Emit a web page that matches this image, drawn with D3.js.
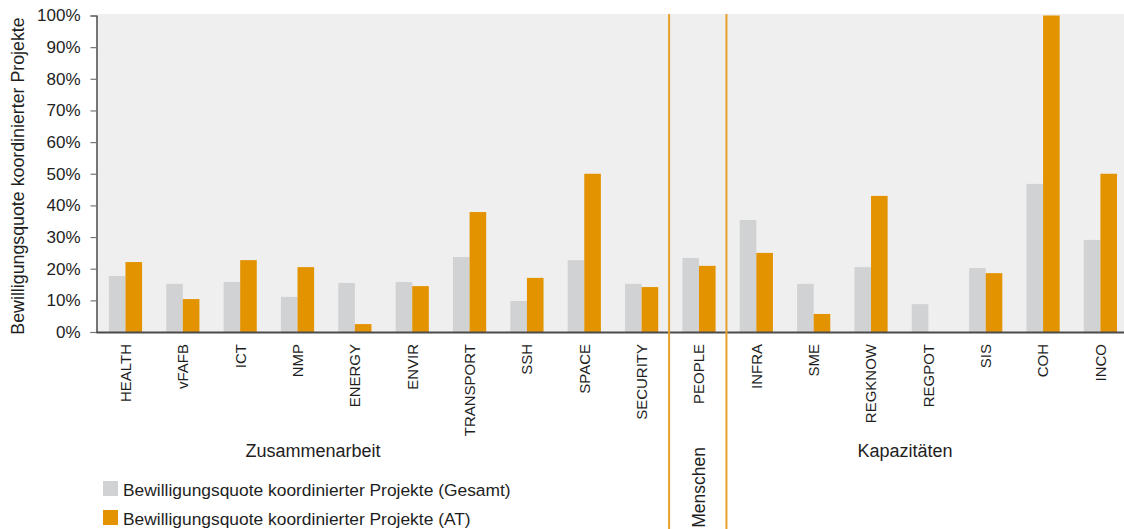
<!DOCTYPE html>
<html>
<head>
<meta charset="utf-8">
<script src="https://cdn.jsdelivr.net/npm/d3@7"></script>
<style>
  html, body { margin: 0; padding: 0; background: #fff; }
  svg { display: block; font-family: "Liberation Sans", Arial, sans-serif; }
</style>
</head>
<body>
<svg id="chart" width="1124" height="529"></svg>
<script>
// Programme areas (FP7) and approval rates of coordinated projects, in percent
const categories = ["HEALTH", "vFAFB", "ICT", "NMP", "ENERGY", "ENVIR", "TRANSPORT", "SSH", "SPACE", "SECURITY",
                    "PEOPLE",
                    "INFRA", "SME", "REGKNOW", "REGPOT", "SIS", "COH", "INCO"];
const totalRate = [17.7, 15.2, 15.8, 11.1, 15.5, 15.8, 23.7, 9.8, 22.7, 15.2,
                   23.4,
                   35.4, 15.2, 20.5, 8.8, 20.2, 46.8, 29.1];
const atRate    = [22.1, 10.4, 22.7, 20.5, 2.5, 14.5, 37.9, 17.1, 50.0, 14.2,
                   20.9,
                   25.0, 5.7, 43.0, 0, 18.6, 100, 50.0];
const seriesNames = ["Bewilligungsquote koordinierter Projekte (Gesamt)",
                     "Bewilligungsquote koordinierter Projekte (AT)"];
const groupNames = ["Zusammenarbeit", "Menschen", "Kapazitäten"];
const groupSizes = [10, 1, 7];
const yTicks = [0, 10, 20, 30, 40, 50, 60, 70, 80, 90, 100];
const yTitle = "Bewilligungsquote koordinierter Projekte";

const colors = ["#d1d2d4", "#e39300"];
const sepColor = "#e7a02c";
const textColor = "#1e1e1e";

const svg = d3.select("#chart");
const W = 1124, H = 529;
const plot = { left: 96.5, top: 14, bottom: 332 };

const x = d3.scaleBand().domain(categories).range([96.8, 1129.1]).padding(0);
const groupW = 33.2;
const x1 = d3.scaleBand().domain([0, 1]).range([0, groupW]).padding(0);
const y = d3.scaleLinear().domain([0, 100]).range([plot.bottom, 15.5]);

// plot background
svg.append("rect")
  .attr("x", plot.left).attr("y", plot.top)
  .attr("width", W - plot.left).attr("height", plot.bottom - plot.top)
  .attr("fill", "#efefef");

// bars
const rows = categories.map((c, i) => ({ cat: c, vals: [totalRate[i], atRate[i]] }));
const gBars = svg.append("g");
const grp = gBars.selectAll("g").data(rows).join("g")
  .attr("transform", d => `translate(${x(d.cat) + (x.bandwidth() - groupW) / 2},0)`);
grp.selectAll("rect").data(d => d.vals.map((v, k) => ({ v, k })))
  .join("rect")
  .attr("x", d => x1(d.k))
  .attr("width", x1.bandwidth())
  .attr("y", d => y(d.v))
  .attr("height", d => y(0) - y(d.v))
  .attr("fill", d => colors[d.k]);

// y axis
const yAxis = svg.append("g")
  .attr("transform", `translate(${plot.left},0)`)
  .call(d3.axisLeft(y).tickValues(yTicks).tickSize(6).tickPadding(10)
        .tickFormat(d => d + "%"));
yAxis.select(".domain").attr("stroke", "#222").attr("stroke-width", 1.2);
yAxis.selectAll(".tick line").attr("stroke", "#777").attr("stroke-width", 1.2);
yAxis.selectAll(".tick text")
  .attr("fill", textColor)
  .style("font-size", "17px")
  .style("font-family", "'Liberation Sans', Arial, sans-serif");

// baseline
svg.append("line")
  .attr("x1", plot.left).attr("x2", W)
  .attr("y1", y(0) + 0.5).attr("y2", y(0) + 0.5)
  .attr("stroke", "#4a4a4a").attr("stroke-width", 2);

// y axis title
svg.append("text")
  .attr("transform", `translate(18,${(plot.top + plot.bottom) / 2 + 3}) rotate(-90)`)
  .attr("text-anchor", "middle")
  .attr("dominant-baseline", "central")
  .attr("fill", textColor)
  .style("font-size", "17.8px")
  .text(yTitle);

// category labels
svg.append("g").selectAll("text").data(categories).join("text")
  .attr("transform", d => `translate(${x(d) + x.bandwidth() / 2},344) rotate(-90)`)
  .attr("text-anchor", "end")
  .attr("dy", "0.36em")
  .attr("fill", textColor)
  .style("font-size", "15px")
  .text(d => d);

// group separators
let start = 0;
const starts = groupSizes.map(n => { const s = start; start += n; return s; });
starts.slice(1).forEach(s => {
  const sx = x(categories[s]) - 1.2;
  svg.append("line")
    .attr("x1", sx).attr("x2", sx)
    .attr("y1", plot.top).attr("y2", H)
    .attr("stroke", sepColor).attr("stroke-width", 2);
});

// group labels
svg.append("text")
  .attr("x", 313).attr("y", 457)
  .attr("text-anchor", "middle")
  .attr("fill", textColor)
  .style("font-size", "18px")
  .text(groupNames[0]);
svg.append("text")
  .attr("transform", `translate(${x(categories[starts[1]]) + x.bandwidth() / 2},447) rotate(-90)`)
  .attr("text-anchor", "end")
  .attr("dy", "0.36em")
  .attr("fill", textColor)
  .style("font-size", "17.5px")
  .text(groupNames[1]);
svg.append("text")
  .attr("x", 905).attr("y", 457)
  .attr("text-anchor", "middle")
  .attr("fill", textColor)
  .style("font-size", "18px")
  .text(groupNames[2]);

// legend
const legend = svg.append("g").attr("transform", "translate(103,481)");
seriesNames.forEach((name, i) => {
  const row = legend.append("g").attr("transform", `translate(0,${i * 29})`);
  row.append("rect").attr("width", 15).attr("height", 15).attr("fill", colors[i]);
  row.append("text")
    .attr("x", 20).attr("y", 14.5)
    .attr("fill", textColor)
    .style("font-size", "17.4px")
    .text(name);
});
</script>
</body>
</html>
